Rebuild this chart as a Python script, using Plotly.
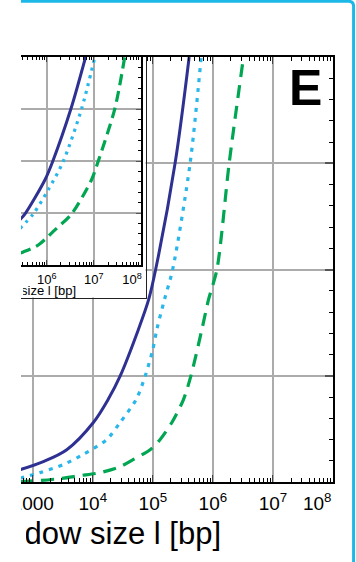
import plotly.graph_objects as go

# ---------------- data ----------------
# main panel: window size l [bp] vs. quantity (y normalised 0..1 of axis range)
main_solid_x = [617, 1503, 3690, 10230, 17990, 28510, 57540, 85110, 111400, 235500, 402700]
main_solid_y = [0.029, 0.048, 0.076, 0.14, 0.194, 0.249, 0.359, 0.429, 0.5, 0.751, 1.0]

main_dot_x = [617, 1324, 3236, 6966, 17100, 28510, 52720, 74470, 100000, 116700, 156000, 213800, 418800, 638300]
main_dot_y = [0.009, 0.022, 0.041, 0.065, 0.1, 0.14, 0.194, 0.249, 0.312, 0.359, 0.429, 0.5, 0.751, 1.0]

main_dash_x = [617, 1324, 2851, 6138, 13240, 28510, 47530, 90160, 132400, 207500, 323600, 429500,
               656100, 845300, 1167000, 1871000, 3236000]
main_dash_y = [0.001, 0.0035, 0.008, 0.015, 0.022, 0.036, 0.053, 0.076, 0.1, 0.14, 0.194, 0.249,
               0.359, 0.429, 0.5, 0.751, 1.0]

# inset
inset_solid_x = [251200, 347500, 920400, 1340000, 3266000, 6683000]
inset_solid_y = [0.21, 0.246, 0.41, 0.498, 0.751, 1.0]

inset_dot_x = [269200, 521200, 1081000, 2244000, 5495000, 10500000]
inset_dot_y = [0.175, 0.246, 0.362, 0.498, 0.751, 1.0]

inset_dash_x = [275400, 319900, 663700, 1496000, 3381000, 8933000, 12330000, 27800000, 45190000]
inset_dash_y = [0.058, 0.063, 0.096, 0.169, 0.246, 0.41, 0.498, 0.751, 1.0]

main_tickvals = [1e3, 1e4, 1e5, 1e6, 1e7, 1e8]
main_ticktext = ["1000", "10<sup>4</sup>", "10<sup>5</sup>", "10<sup>6</sup>", "10<sup>7</sup>",
                 "10<sup>8</sup>" + "\u00a0" * 6]
inset_tickvals = [1e6, 1e7, 1e8]
inset_ticktext = ["10<sup>6</sup>", "10<sup>7</sup>", "10<sup>8</sup>" + "\u00a0" * 5]

x_title = "Window size l [bp]"
panel_label = "E"

# ---------------- styling ----------------
W, H = 356, 562
ML, MR, MT, MB = 21, 23, 57, 80
PW = W - ML - MR
PH = H - MT - MB


def px(xpix):
    return (xpix - ML) / PW


def py(ypix):
    return (H - MB - ypix) / PH


NAVY = "#2e3192"
CYAN = "#29b6ea"
GREEN = "#00a651"
GRID = "#ababab"
FONT = "Liberation Sans, Arial, Helvetica, sans-serif"

fig = go.Figure()

# main traces
fig.add_trace(go.Scatter(x=main_solid_x, y=main_solid_y, mode="lines",
                         line=dict(color=NAVY, width=3, shape="spline", smoothing=0.9),
                         xaxis="x", yaxis="y"))
fig.add_trace(go.Scatter(x=main_dot_x, y=main_dot_y, mode="lines",
                         line=dict(color=CYAN, width=3.2, dash="4px,6px", shape="spline", smoothing=0.8),
                         xaxis="x", yaxis="y"))
fig.add_trace(go.Scatter(x=main_dash_x, y=main_dash_y, mode="lines",
                         line=dict(color=GREEN, width=3.2, dash="13px,8px", shape="spline", smoothing=0.8),
                         xaxis="x", yaxis="y"))

# inset frame (white box) subplot
fig.add_trace(go.Scatter(x=[], y=[], xaxis="x2", yaxis="y2", mode="lines"))

# inset traces
fig.add_trace(go.Scatter(x=inset_solid_x, y=inset_solid_y, mode="lines",
                         line=dict(color=NAVY, width=3, shape="spline", smoothing=0.8),
                         xaxis="x3", yaxis="y3"))
fig.add_trace(go.Scatter(x=inset_dot_x, y=inset_dot_y, mode="lines",
                         line=dict(color=CYAN, width=3.2, dash="3px,5px", shape="spline", smoothing=0.8),
                         xaxis="x3", yaxis="y3"))
fig.add_trace(go.Scatter(x=inset_dash_x, y=inset_dash_y, mode="lines",
                         line=dict(color=GREEN, width=3.2, dash="11px,6px", shape="spline", smoothing=0.8),
                         xaxis="x3", yaxis="y3"))

common_line = dict(showline=True, linecolor="black", linewidth=1.5, zeroline=False, automargin=False)

fig.update_layout(
    template="none",
    width=W, height=H,
    margin=dict(l=ML, r=MR, t=MT, b=MB, pad=0, autoexpand=False),
    paper_bgcolor="white", plot_bgcolor="white",
    showlegend=False,
    font=dict(family=FONT, color="black"),
    xaxis=dict(type="log", range=[2.805, 8.0], domain=[0, 1], anchor="y",
               tickmode="array", tickvals=main_tickvals, ticktext=main_ticktext,
               tickfont=dict(size=19, family=FONT, color="black"), ticklabelstandoff=3,
               ticklabeloverflow="allow",
               showgrid=True, gridcolor=GRID, gridwidth=1.5,
               mirror="ticks", ticks="inside", ticklen=7, tickwidth=1.2, tickcolor="#444",
               minor=dict(ticks="inside", ticklen=4, tickwidth=1, tickcolor="black",
                          dtick="D1", showgrid=False),
               **common_line),
    yaxis=dict(range=[0, 1], domain=[0, 1], anchor="x", side="right",
               tick0=0, dtick=0.25, showticklabels=False,
               showgrid=True, gridcolor=GRID, gridwidth=1.5,
               ticks="inside", ticklen=8, tickwidth=1.5, tickcolor="#555",
               minor=dict(ticks="inside", ticklen=4.5, tickwidth=1, tickcolor="black",
                          dtick=0.05, showgrid=False),
               **common_line),
    xaxis2=dict(domain=[0, px(145.5)], anchor="y2", range=[0, 1],
                showgrid=False, showticklabels=False, ticks="", automargin=False,
                showline=True, linecolor="#222", linewidth=1.4, zeroline=False),
    yaxis2=dict(domain=[py(297.5), 1], anchor="x2", side="right", range=[0, 1],
                showgrid=False, showticklabels=False, ticks="", automargin=False,
                showline=True, linecolor="#222", linewidth=1.4, zeroline=False),
    xaxis3=dict(type="log", range=[5.455, 8.0], domain=[0, px(141)], anchor="y3",
                tickmode="array", tickvals=inset_tickvals, ticktext=inset_ticktext,
                tickfont=dict(size=13, family=FONT, color="black"), ticklabelstandoff=2,
                ticklabeloverflow="allow",
                showgrid=True, gridcolor=GRID, gridwidth=1.5,
                mirror="ticks", ticks="inside", ticklen=5, tickwidth=1, tickcolor="#444",
                minor=dict(ticks="inside", ticklen=3, tickwidth=1, tickcolor="black",
                           dtick="D1", showgrid=False),
                **common_line),
    yaxis3=dict(range=[0, 1], domain=[py(265), 1], anchor="x3", side="right",
                tick0=0, dtick=0.25, showticklabels=False,
                showgrid=True, gridcolor=GRID, gridwidth=1.5,
                ticks="inside", ticklen=5, tickwidth=1.2, tickcolor="#555",
                minor=dict(ticks="inside", ticklen=3, tickwidth=1, tickcolor="black",
                           dtick=0.05, showgrid=False),
                **common_line),
)

# annotations: axis titles (left part cut off by the crop) and panel label
fig.add_annotation(xref="paper", yref="paper", x=px(24), y=py(533), xanchor="left", yanchor="middle",
                   text=x_title, showarrow=False, width=195, align="right",
                   font=dict(size=31, family=FONT, color="black"))
fig.add_annotation(xref="paper", yref="paper", x=px(21), y=py(290), xanchor="left", yanchor="middle",
                   text=x_title, showarrow=False, width=53, align="right",
                   font=dict(size=13, family=FONT, color="black"))
fig.add_annotation(xref="paper", yref="paper", x=px(305.5), y=py(87.5), xanchor="center", yanchor="middle",
                   text="<b>" + panel_label + "</b>", showarrow=False,
                   font=dict(size=50, family=FONT, color="black"))

# white strip (crop edge) and light-blue panel border
fig.add_shape(type="rect", xref="paper", yref="paper", x0=px(-10), x1=px(21), y0=py(600), y1=py(-10),
              fillcolor="white", line=dict(width=0), layer="above")
r = 5
path = (f"M {px(21)},{py(1.3)} L {px(353.6 - r)},{py(1.3)} "
        f"Q {px(353.6)},{py(1.3)} {px(353.6)},{py(1.3 + r)} L {px(353.6)},{py(575)}")
fig.add_shape(type="path", xref="paper", yref="paper", path=path,
              line=dict(color="#1cb8e8", width=3), layer="above")

fig.write_html("out.html")
